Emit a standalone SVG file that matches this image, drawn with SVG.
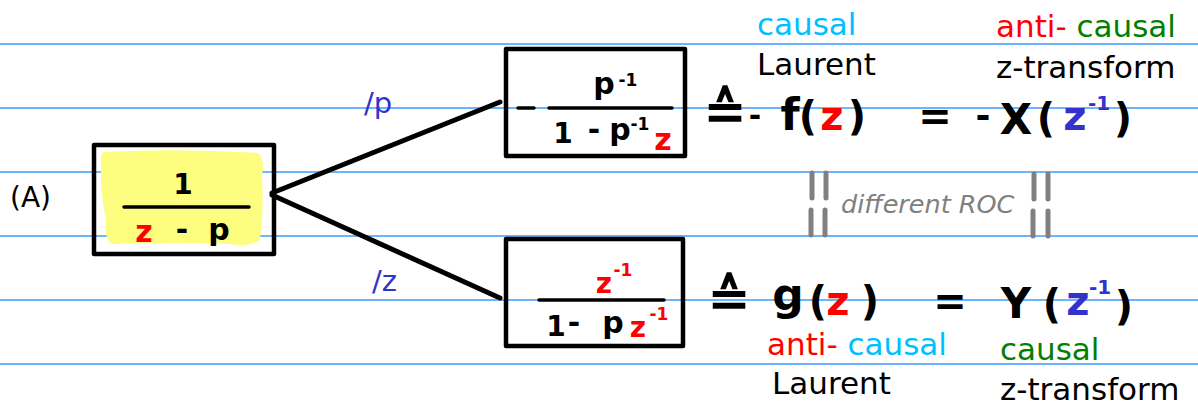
<svg xmlns="http://www.w3.org/2000/svg" width="1198" height="405" viewBox="0 0 1198 405">
<style>
.rule{stroke:#3d9bff;stroke-width:1.5}
.box{fill:none;stroke:#000;stroke-width:4.5;stroke-linejoin:round}
.bar{stroke:#000;stroke-width:3.5;stroke-linecap:round}
.conn{stroke:#000;stroke-width:5;stroke-linecap:round}
.m{font-family:"DejaVu Sans",sans-serif;font-weight:bold;fill:#000;text-anchor:middle}
.lbl{font-family:"DejaVu Sans",sans-serif;font-size:31px}
.red{fill:#ff0000}
.blue{fill:#3333cc}
.cyan{fill:#00bfff}
.green{fill:#008000}
.gray{stroke:#808080;stroke-width:5;stroke-linecap:round}
</style>
<rect width="1198" height="405" fill="#fff"/>
<g id="rules">
<line class="rule" x1="0" y1="44" x2="1198" y2="44"/>
<line class="rule" x1="0" y1="108" x2="1198" y2="108"/>
<line class="rule" x1="0" y1="172" x2="1198" y2="172"/>
<line class="rule" x1="0" y1="236" x2="1198" y2="236"/>
<line class="rule" x1="0" y1="300" x2="1198" y2="300"/>
<line class="rule" x1="0" y1="364" x2="1198" y2="364"/>
</g>
<g id="connectors">
<line class="conn" x1="272" y1="193" x2="500" y2="102"/>
<line class="conn" x1="272" y1="195" x2="500" y2="298"/>
<text x="364" y="113" font-family="DejaVu Sans,sans-serif" font-size="29" class="blue">/p</text>
<text x="372" y="291" font-family="DejaVu Sans,sans-serif" font-size="29" class="blue">/z</text>
</g>
<g id="labelA">
<text x="10" y="207" font-family="DejaVu Sans,sans-serif" font-size="28">(A)</text>
</g>
<g id="nodeA">
<path d="M104,152 Q180,148 258,153 Q265,160 262,175 Q264,210 260,240 Q250,247 230,244 Q180,242 112,244 Q104,240 106,220 Q100,190 101,165 Q100,154 104,152 Z" fill="#fdfd80"/>
<rect class="box" x="94" y="145" width="180" height="109"/>
<text class="m" x="183" y="194" font-size="28">1</text>
<line class="bar" x1="124" y1="207" x2="249" y2="207"/>
<text class="m red" x="144" y="242" font-size="30">z</text>
<text class="m" x="182" y="240" font-size="30">-</text>
<text class="m" x="219" y="240" font-size="30">p</text>
</g>
<g id="nodeTop">
<rect class="box" x="506" y="49" width="179" height="107"/>
<line class="bar" x1="518" y1="108" x2="534" y2="108"/>
<line class="bar" x1="549" y1="108" x2="672" y2="108"/>
<text class="m" x="604" y="94" font-size="30">p</text>
<text class="m" x="628" y="86" font-size="17">-1</text>
<text class="m" x="563" y="143" font-size="28">1</text>
<text class="m" x="594" y="140" font-size="30">-</text>
<text class="m" x="620" y="140" font-size="30">p</text>
<text class="m" x="640" y="130" font-size="17">-1</text>
<text class="m red" x="663" y="150" font-size="30">z</text>
</g>
<g id="nodeBottom">
<rect class="box" x="506" y="239" width="177" height="107"/>
<line class="bar" x1="539" y1="300" x2="664" y2="300"/>
<text class="m red" x="604" y="293" font-size="28">z</text>
<text class="m red" x="623" y="276" font-size="17">-1</text>
<text class="m" x="556" y="336" font-size="28">1</text>
<text class="m" x="574" y="333" font-size="30">-</text>
<text class="m" x="613" y="333" font-size="30">p</text>
<text class="m red" x="638" y="337" font-size="28">z</text>
<text class="m red" x="659" y="320" font-size="17">-1</text>
</g>
<g id="topFormula">
<text class="m" x="725" y="129" font-size="52">≙</text>
<text class="m" x="755" y="126" font-size="30">-</text>
<text class="m" x="790" y="130" font-size="44">f</text>
<text class="m" x="808" y="130" font-size="40">(</text>
<text class="m red" x="832" y="130" font-size="40">z</text>
<text class="m" x="857" y="130" font-size="40">)</text>
<text class="m" x="935" y="130" font-size="40">=</text>
<text class="m" x="983" y="128" font-size="36">-</text>
<text class="m" x="1016" y="134" font-size="42">X</text>
<text class="m" x="1046" y="132" font-size="40">(</text>
<text class="m blue" x="1075" y="130" font-size="40">z</text>
<text class="m blue" x="1099" y="110" font-size="20">-1</text>
<text class="m" x="1123" y="132" font-size="40">)</text>
</g>
<g id="topLabels">
<text class="lbl cyan" x="757" y="35">causal</text>
<text class="lbl" x="757" y="75">Laurent</text>
<text class="lbl" x="996" y="37"><tspan class="red">anti-</tspan> <tspan class="green">causal</tspan></text>
<text class="lbl" x="996" y="78">z-transform</text>
</g>
<g id="roc">
<line class="gray" x1="812" y1="173" x2="812" y2="198"/>
<line class="gray" x1="826" y1="173" x2="826" y2="198"/>
<line class="gray" x1="811" y1="210" x2="811" y2="235"/>
<line class="gray" x1="825" y1="210" x2="825" y2="235"/>
<line class="gray" x1="1034" y1="174" x2="1034" y2="199"/>
<line class="gray" x1="1048" y1="174" x2="1048" y2="199"/>
<line class="gray" x1="1033" y1="211" x2="1033" y2="236"/>
<line class="gray" x1="1048" y1="211" x2="1048" y2="236"/>
<text x="841" y="213" font-family="DejaVu Sans,sans-serif" font-style="italic" font-size="25.5" fill="#808080">different ROC</text>
</g>
<g id="bottomFormula">
<text class="m" x="729" y="316" font-size="52">≙</text>
<text class="m" x="788" y="310" font-size="44">g</text>
<text class="m" x="818" y="315" font-size="40">(</text>
<text class="m red" x="838" y="315" font-size="40">z</text>
<text class="m" x="870" y="315" font-size="40">)</text>
<text class="m" x="950" y="315" font-size="40">=</text>
<text class="m" x="1016" y="318" font-size="42">Y</text>
<text class="m" x="1052" y="318" font-size="40">(</text>
<text class="m blue" x="1078" y="315" font-size="40">z</text>
<text class="m blue" x="1100" y="294" font-size="20">-1</text>
<text class="m" x="1124" y="320" font-size="40">)</text>
</g>
<g id="bottomLabels">
<text class="lbl" x="767" y="355"><tspan class="red">anti-</tspan> <tspan class="cyan">causal</tspan></text>
<text class="lbl" x="772" y="394">Laurent</text>
<text class="lbl green" x="1000" y="360">causal</text>
<text class="lbl" x="1000" y="400">z-transform</text>
</g>
</svg>
